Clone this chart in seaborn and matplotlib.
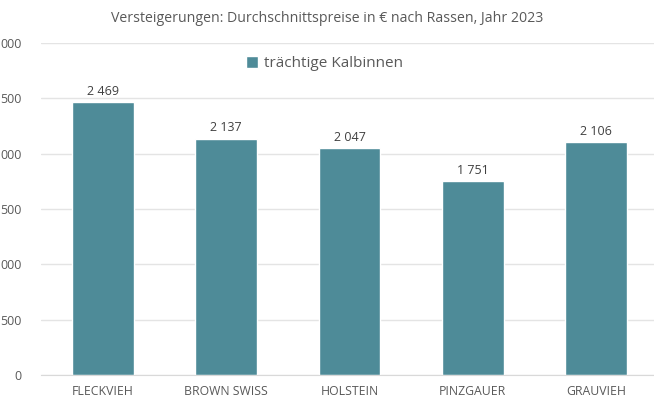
import matplotlib
matplotlib.use("Agg")
import matplotlib.pyplot as plt
import pandas as pd
import seaborn as sns

breeds = ["FLECKVIEH", "BROWN SWISS", "HOLSTEIN", "PINZGAUER", "GRAUVIEH"]
prices = [2469, 2137, 2047, 1751, 2106]
series_name = "trächtige Kalbinnen"
y_ticks = [0, 500, 1000, 1500, 2000, 2500, 3000]
y_tick_labels = ["0", "500", "000", "500", "000", "500", "000"]

sns.set_style("white")
plt.rcParams["font.family"] = ["Open Sans", "DejaVu Sans"]

bar_color = "#4e8b98"
text_color = "#595959"

df = pd.DataFrame({"Rasse": breeds, "Preis": prices, "Kategorie": series_name})

fig = plt.figure(figsize=(6.54, 4.0), dpi=100)
ax = fig.add_axes([41 / 654, 25 / 400, 613 / 654, 332 / 400])

sns.barplot(
    data=df,
    x="Rasse",
    y="Preis",
    hue="Kategorie",
    palette={series_name: bar_color},
    saturation=1,
    width=0.5,
    dodge=False,
    ax=ax,
)

for container in ax.containers:
    ax.bar_label(
        container,
        labels=[f"{v:,}".replace(",", " ") for v in prices],
        padding=3,
        fontsize=9,
        color="#404040",
    )

ax.set_ylim(0, 3000)
ax.set_xlim(-0.5, 4.468)
ax.set_yticks(y_ticks)
ax.set_yticklabels(y_tick_labels)
ax.yaxis.grid(True, color="#e4e4e4", linewidth=1)
ax.set_axisbelow(True)
for side in ["top", "right", "left"]:
    ax.spines[side].set_visible(False)
ax.spines["bottom"].set_color("#d9d9d9")
ax.tick_params(axis="y", length=0, pad=14, labelsize=9, labelcolor=text_color)
ax.tick_params(axis="x", length=0, pad=7, labelsize=8.8, labelcolor=text_color)
ax.set_xlabel("")
ax.set_ylabel("")

ax.legend(
    loc="center",
    bbox_to_anchor=(0.462, 0.937),
    frameon=False,
    fontsize=11,
    labelcolor=text_color,
    handlelength=0.8,
    handleheight=0.8,
    handletextpad=0.4,
)

fig.text(
    0.5, 1 - 18 / 400,
    "Versteigerungen: Durchschnittspreise in € nach Rassen, Jahr 2023",
    ha="center", va="center", fontsize=10.2, color=text_color,
)

fig.savefig("out.png", dpi=100)
